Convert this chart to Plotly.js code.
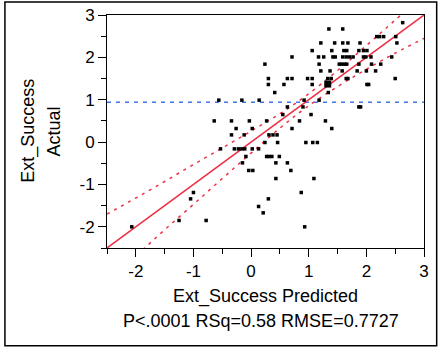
<!DOCTYPE html>
<html>
<head>
<meta charset="utf-8">
<script src="https://cdn.plot.ly/plotly-3.0.1.min.js"></script>
<style>
html,body{margin:0;padding:0;background:#fff;}
#chart{width:440px;height:352px;}
</style>
</head>
<body>
<div id="chart"></div>
<script>
// Actual by Predicted data
const predicted = [
  2.63,
  1.35, 1.59,
  2.18, 2.23, 2.30, 2.51,
  1.21, 1.45, 1.59, 1.68, 1.89, 2.53,
  1.06, 1.40, 1.61, 1.66, 1.87, 1.95, 2.01,
  0.71, 1.17, 1.26, 1.42, 1.46, 1.59, 1.65, 1.71, 1.77, 1.95, 1.99, 2.08, 2.44,
  0.24, 1.18, 1.53, 1.57, 1.62, 1.66, 1.87, 2.09, 2.25,
  1.21, 1.37, 1.58, 1.84, 2.00, 2.16,
  0.30, 0.63, 0.71, 0.98, 1.06, 1.33, 1.39, 1.65, 1.68, 2.50,
  0.30, 0.57, 1.06, 2.01, 2.04,
  0.41, 1.34,
  -0.56, -0.16, 0.14, 0.92, 1.18,
  0.63, 0.90, 1.87, 1.90,
  0.55, 1.04,
  -0.64, -0.34, -0.03, 0.27, 0.84, 1.29,
  -0.26, 0.02, 0.71, 1.40,
  -0.34, -0.12, 0.31, 0.38, 0.45,
  0.24, 0.46, 0.95, 1.07, 1.15,
  -0.53, -0.29, -0.22, -0.16, -0.11, 0.02, 0.13,
  -0.09, 0.27, 0.31, 0.36, 0.49,
  -0.15, 0.43, 0.63,
  -0.04, 0.03, 0.69,
  0.43, 1.09,
  -1.00, 0.87,
  -1.05, 0.30,
  0.13,
  0.21,
  -1.25, -0.78,
  -2.07, 0.93
];
const actual = [
  2.82,
  2.67, 2.67,
  2.49, 2.49, 2.49, 2.49,
  2.34, 2.34, 2.34, 2.34, 2.34, 2.34,
  2.16, 2.16, 2.16, 2.16, 2.16, 2.16, 2.16,
  2.01, 2.01, 2.01, 2.01, 2.01, 2.01, 2.01, 2.01, 2.01, 2.01, 2.01, 2.01, 2.01,
  1.84, 1.84, 1.84, 1.84, 1.84, 1.84, 1.84, 1.84, 1.84,
  1.68, 1.68, 1.68, 1.68, 1.68, 1.68,
  1.50, 1.50, 1.50, 1.50, 1.50, 1.50, 1.50, 1.50, 1.50, 1.50,
  1.36, 1.36, 1.36, 1.36, 1.36,
  1.17, 1.17,
  0.99, 0.99, 0.99, 0.99, 0.99,
  0.83, 0.83, 0.83, 0.83,
  0.65, 0.65,
  0.50, 0.50, 0.50, 0.50, 0.50, 0.50,
  0.32, 0.32, 0.32, 0.32,
  0.17, 0.17, 0.17, 0.17, 0.17,
  -0.01, -0.01, -0.01, -0.01, -0.01,
  -0.16, -0.16, -0.16, -0.16, -0.16, -0.16, -0.16,
  -0.34, -0.34, -0.34, -0.34, -0.34,
  -0.49, -0.49, -0.49,
  -0.67, -0.67, -0.67,
  -0.86, -0.86,
  -1.19, -1.19,
  -1.34, -1.34,
  -1.52,
  -1.67,
  -1.85, -1.85,
  -2.00, -2.00
];
// the highlighted (large) point
const bigPredicted = [1.33];
const bigActual = [1.37];

// fit line and confidence curves
const fitX = [-2.5, 3];
const fitY = [-2.5, 3];
const bandX     = [-2.5, -2, -1.5, -1, -0.5, 0, 0.5, 0.94, 1.5, 2, 2.5, 3];
const bandUpper = [-1.70, -1.32, -0.93, -0.53, -0.14, 0.26, 0.67, 1.08, 1.69, 2.28, 2.88, 3.49];
const bandLower = [-3.30, -2.69, -2.07, -1.47, -0.86, -0.26, 0.33, 0.80, 1.31, 1.72, 2.10, 2.45];
const meanActual = 0.94;
const meanX = [-2.5, 3];

const tickVals = [-2, -1, 0, 1, 2, 3];
const tickText = ['-2', '-1', '0', '1', '2', '3'];

const xTitle = 'Ext_Success Predicted';
const yTitle1 = 'Ext_Success';
const yTitle2 = 'Actual';
const statsText = 'P<.0001 RSq=0.58 RMSE=0.7727';

const FONT = 'Liberation Sans, Arial, sans-serif';
const RED = '#ee2f45';
const BLUE = '#3f78e4';

const traces = [
  {x: meanX, y: [meanActual, meanActual], mode: 'lines', type: 'scatter',
   line: {color: BLUE, width: 1.5, dash: '4px,5px'}, hoverinfo: 'skip'},
  {x: bandX, y: bandUpper, mode: 'lines', type: 'scatter',
   line: {color: RED, width: 1.5, dash: '3px,5px', shape: 'spline'}, hoverinfo: 'skip'},
  {x: bandX, y: bandLower, mode: 'lines', type: 'scatter',
   line: {color: RED, width: 1.5, dash: '3px,5px', shape: 'spline'}, hoverinfo: 'skip'},
  {x: fitX, y: fitY, mode: 'lines', type: 'scatter',
   line: {color: RED, width: 1.5}, hoverinfo: 'skip'},
  {x: predicted, y: actual, mode: 'markers', type: 'scatter',
   marker: {symbol: 'square', size: 3.5, color: '#000', line: {width: 0}}},
  {x: bigPredicted, y: bigActual, mode: 'markers', type: 'scatter',
   marker: {symbol: 'square', size: 7, color: '#000', line: {width: 0}}}
];

const axisCommon = {
  range: [-2.5, 3],
  tickmode: 'array', tickvals: tickVals, ticktext: tickText,
  ticks: 'outside', ticklen: 8, tickwidth: 1, tickcolor: '#000',
  showline: true, linecolor: '#000', linewidth: 1, mirror: true,
  showgrid: false, zeroline: false,
  tickfont: {family: FONT, size: 17, color: '#000'},
  minor: {tickmode: 'linear', tick0: 0, dtick: 0.5, ticks: 'outside', ticklen: 5, tickwidth: 1, tickcolor: '#000', showgrid: false},
  fixedrange: true
};

const layout = {
  width: 440, height: 352,
  margin: {l: 107, r: 16, t: 15, b: 104},
  paper_bgcolor: '#fff', plot_bgcolor: '#fff',
  showlegend: false,
  font: {family: FONT, color: '#000'},
  xaxis: Object.assign({}, axisCommon, {
    title: {text: xTitle, font: {family: FONT, size: 18, color: '#000'}, standoff: 8}
  }),
  yaxis: Object.assign({}, axisCommon, {title: {text: ''}}),
  annotations: [
    {text: yTitle1, xref: 'paper', yref: 'paper', x: -0.25, y: 0.502, xanchor: 'center', yanchor: 'middle',
     textangle: -90, showarrow: false, font: {family: FONT, size: 18, color: '#000'}},
    {text: yTitle2, xref: 'paper', yref: 'paper', x: -0.166, y: 0.502, xanchor: 'center', yanchor: 'middle',
     textangle: -90, showarrow: false, font: {family: FONT, size: 18, color: '#000'}},
    {text: statsText, xref: 'paper', yref: 'paper', x: 0.486, y: -0.313, xanchor: 'center', yanchor: 'middle',
     showarrow: false, font: {family: FONT, size: 18, color: '#000'}}
  ],
  shapes: [
    {type: 'rect', xref: 'paper', yref: 'paper', x0: -0.322, x1: 1.04, y0: -0.42, y1: 1.056,
     line: {color: '#000', width: 1.5}, fillcolor: 'rgba(0,0,0,0)'}
  ]
};

Plotly.newPlot('chart', traces, layout, {displayModeBar: false, staticPlot: true});
</script>
</body>
</html>
